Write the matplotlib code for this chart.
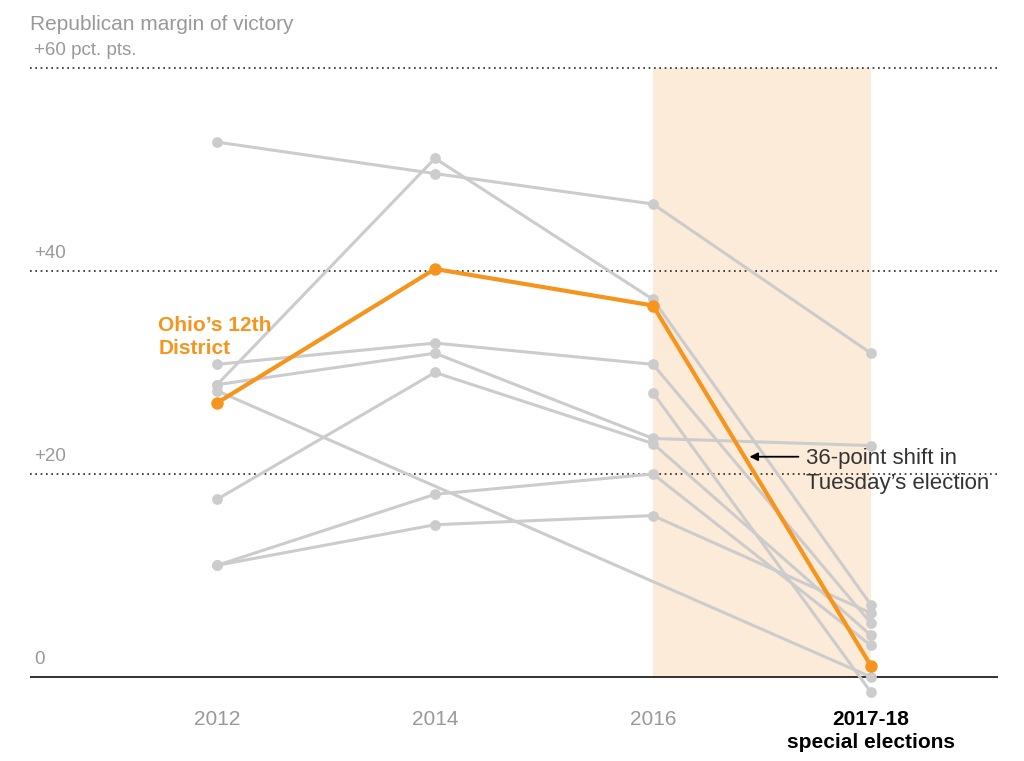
import numpy as np
import matplotlib
matplotlib.use("Agg")
import matplotlib.pyplot as plt

plt.rcParams['font.family'] = ['Liberation Sans', 'DejaVu Sans']

periods = ["2012", "2014", "2016", "2017-18\nspecial elections"]
nan = np.nan
gray_lines = [
    [52.7, 49.6, 46.6, 31.9],
    [28.8, 51.1, 37.2, 7.1],
    [30.8, 32.9, 30.8, 5.3],
    [28.8, 31.9, 23.5, 22.8],
    [17.5, 30.0, 23.0, 4.1],
    [11.0, 18.0, 20.0, 3.1],
    [11.0, 15.0, 15.9, 6.3],
    [28.2, nan, nan, 0.0],
    [nan, nan, 28.0, -1.5],
]
ohio = [27.0, 40.2, 36.6, 1.1]
yticks = [0, 20, 40, 60]
ytick_labels = ["0", "+20", "+40", "+60 pct. pts."]

fig = plt.figure(figsize=(10.24, 7.61), dpi=100)
ax = fig.add_axes([30/1024, 61/761, 968/1024, 640/761])
ax.set_xlim(-0.858, 3.583)
ax.set_ylim(-2.27, 60.79)
ax.axis('off')
ax.fill_between([2, 3], 0, 60, color='#fcebd9', zorder=0, lw=0)
for yt in yticks[1:]:
    ax.axhline(yt, color='#222222', lw=1.2, ls=(0, (1, 2.2)), zorder=1)
ax.axhline(0, color='#222222', lw=1.3, zorder=1)
for yt, lab in zip(yticks, ytick_labels):
    ax.text(-0.84, yt + 0.9, lab, color='#999999', fontsize=13.5, va='bottom', ha='left')
fig.text(30/1024, 1 - 25/761, "Republican margin of victory", color='#999999', fontsize=15, va='center')

x = np.arange(4)
gc = '#cccccc'
for line in gray_lines:
    arr = np.array(line, dtype=float)
    m = ~np.isnan(arr)
    ax.plot(x[m], arr[m], color=gc, lw=2.2, zorder=2, solid_capstyle='round')
    ax.scatter(x[m], arr[m], s=60, color=gc, zorder=3, lw=0)
oc = '#f7941d'
ax.plot(x, ohio, color=oc, lw=3, zorder=4)
ax.scatter(x, ohio, s=80, color=oc, zorder=5, lw=0)

ax.text(-0.27, 33.5, "Ohio’s 12th\nDistrict", color=oc, fontsize=15, fontweight='bold',
        ha='left', va='center', linespacing=1.3)
ax.annotate("", xy=(2.43, 21.7), xytext=(2.68, 21.7),
            arrowprops=dict(arrowstyle='-|>', color='black', lw=1.3, mutation_scale=12), zorder=6)
ax.text(2.7, 20.3, "36-point shift in\nTuesday’s election", fontsize=16, color='#333333',
        ha='left', va='center', linespacing=1.3, zorder=6)

for i, p in enumerate(periods):
    if i < 3:
        ax.text(i, -3.3, p, ha='center', va='top', fontsize=15, color='#999999')
    else:
        ax.text(i, -3.3, p, ha='center', va='top', fontsize=15, color='black',
                fontweight='bold', linespacing=1.25)
for t in ax.texts:
    t.set_clip_on(False)
fig.savefig("out.png", dpi=100)
